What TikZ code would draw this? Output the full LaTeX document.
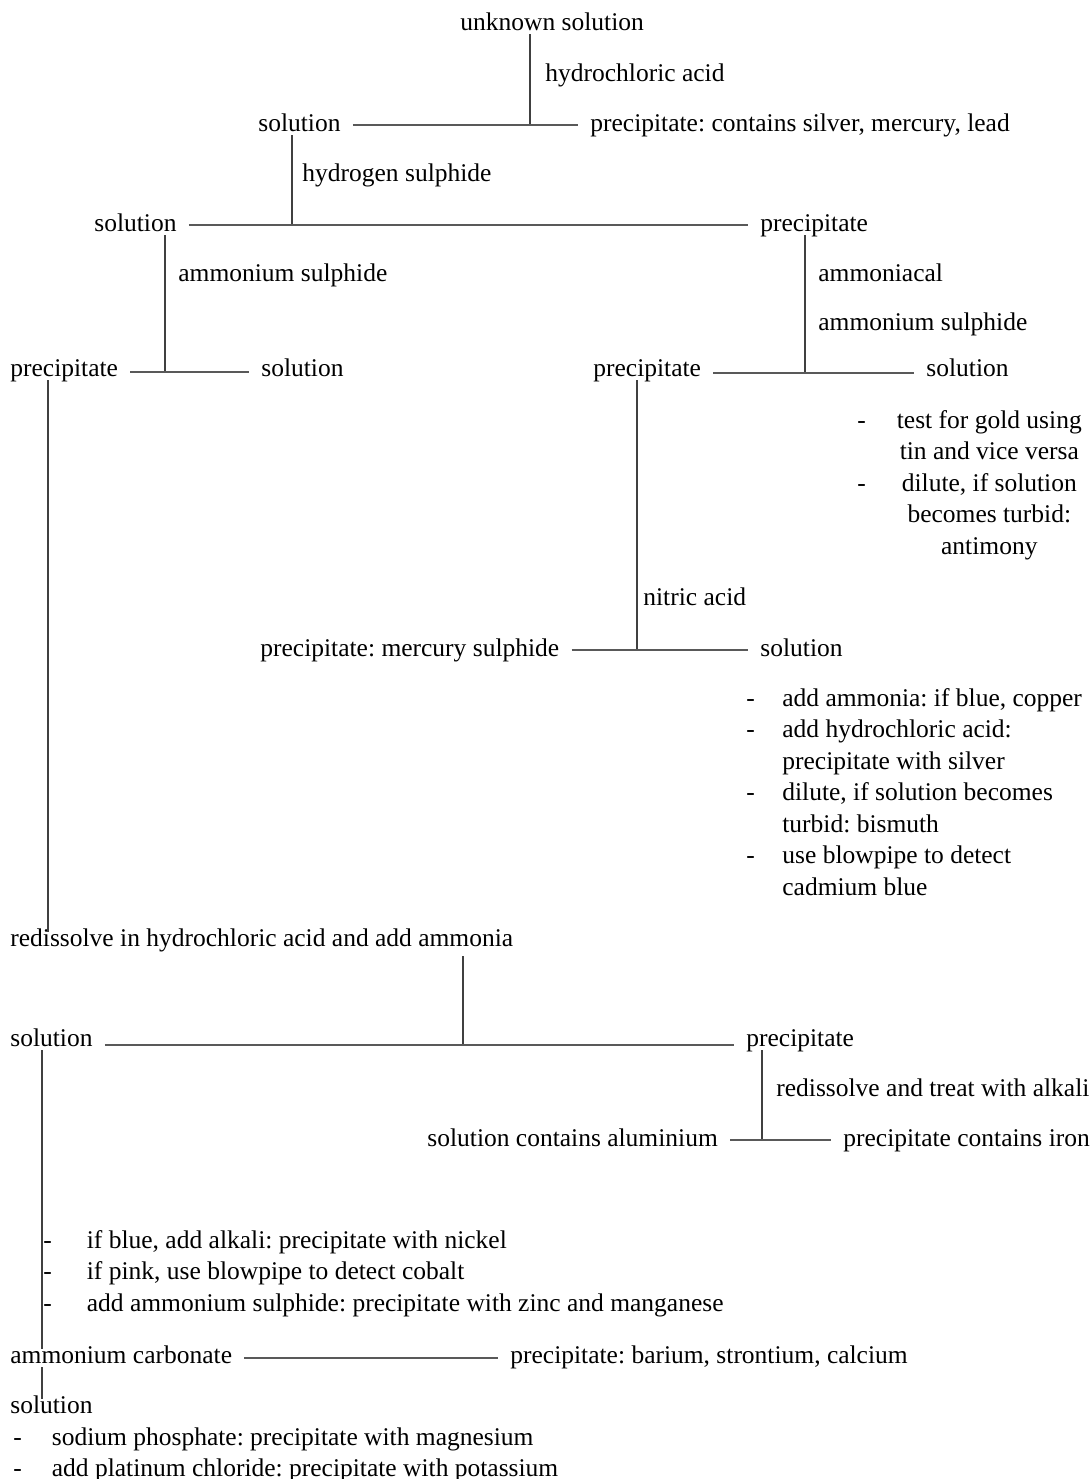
\documentclass[tikz,border=0pt]{standalone}
\usepackage{fontspec}
\setmainfont{Liberation Serif}
\usetikzlibrary{positioning}
\frenchspacing

\tikzset{
	txt/.style={anchor=west, inner sep=0pt, text height=.7em, text depth=.2em, yshift=-1.5pt},
	notes/.style={anchor=base west, inner sep=0pt, yshift=-1pt},
	vline/.style={draw=black!75, line width=0.6pt},
	hline/.style={draw=black!65, line width=1pt, shorten <=6pt, shorten >=6pt}
}

\begin{document}
\begin{tikzpicture}[x=0.5pt, y=-0.5pt, font=\fontsize{12.75}{15.75}\selectfont]
	\useasboundingbox (0,0) rectangle (1092,1479);

	% hydrochloric acid group
	\node[txt] (unk) at (460,22) {unknown solution};
	\node[txt] (hcl) at (545,73) {hydrochloric acid};
	\node[txt] (sol1) at (258,123) {solution};
	\node[txt] (agpb) at (590,123) {precipitate: contains silver, mercury, lead};
	\coordinate (j1) at (530,125);
	\draw[vline] (j1 |- unk.south) -- (j1);
	\draw[hline] (sol1.east |- j1) -- (agpb.west |- j1);

	% hydrogen sulphide
	\node[txt] (hs) at (302,173) {hydrogen sulphide};
	\node[txt] (sol2) at (94,223) {solution};
	\node[txt] (prec2) at (760,223) {precipitate};
	\coordinate (j2) at (292,225);
	\draw[vline] (j2 |- sol1.south) -- (j2);
	\draw[hline] (sol2.east |- j2) -- (prec2.west |- j2);

	% ammonium sulphide, left
	\node[txt] (as1) at (178,273) {ammonium sulphide};
	\node[txt] (prec3) at (10,368) {precipitate};
	\node[txt] (sol3) at (261,368) {solution};
	\coordinate (j3) at (165,372);
	\draw[vline] (j3 |- sol2.south) -- (j3);
	\draw[hline] (prec3.east |- j3) -- (sol3.west |- j3);

	% ammoniacal ammonium sulphide, right
	\node[txt] (amm) at (818,273) {ammoniacal};
	\node[txt] (as2) at (818,322) {ammonium sulphide};
	\node[txt] (prec4) at (593,368) {precipitate};
	\node[txt] (sol4) at (926,368) {solution};
	\coordinate (j4) at (805,373);
	\draw[vline] (j4 |- prec2.south) -- (j4);
	\draw[hline] (prec4.east |- j4) -- (sol4.west |- j4);
	\node[notes] (goldnotes) at (857,426) {\begin{tabular}[t]{@{}l@{\hspace{15.5pt}}c@{}}
		- & test for gold using\\
		  & tin and vice versa\\
		- & dilute, if solution\\
		  & becomes turbid:\\
		  & antimony
	\end{tabular}};

	% nitric acid
	\node[txt] (nitric) at (643,597) {nitric acid};
	\node[txt] (hgs) at (260,648) {precipitate: mercury sulphide};
	\node[txt] (sol5) at (760,648) {solution};
	\coordinate (j5) at (637,650);
	\draw[vline] (j5 |- prec4.south) -- (j5);
	\draw[hline] (hgs.east |- j5) -- (sol5.west |- j5);
	\node[notes] (cunotes) at (746,704) {\begin{tabular}[t]{@{}l@{\hspace{13.75pt}}l@{}}
		- & add ammonia: if blue, copper\\
		- & add hydrochloric acid:\\
		  & precipitate with silver\\
		- & dilute, if solution becomes\\
		  & turbid: bismuth\\
		- & use blowpipe to detect\\
		  & cadmium blue
	\end{tabular}};

	% ammonia group
	\node[txt] (redis) at (10,938) {redissolve in hydrochloric acid and add ammonia};
	\coordinate (k1) at (48,0);
	\draw[vline] (k1 |- prec3.south) -- (k1 |- redis.north);
	\node[txt] (sol6) at (10,1038) {solution};
	\node[txt] (prec6) at (746,1038) {precipitate};
	\coordinate (j6) at (463,1045);
	\draw[vline, shorten <=3pt] (j6 |- redis.south) -- (j6);
	\draw[hline] (sol6.east |- j6) -- (prec6.west |- j6);

	\node[txt] (alkali) at (776,1088) {redissolve and treat with alkali};
	\node[txt] (al) at (427,1138) {solution contains aluminium};
	\node[txt] (fe) at (843,1138) {precipitate contains iron};
	\coordinate (j7) at (762,1140);
	\draw[vline] (j7 |- prec6.south) -- (j7);
	\draw[hline] (al.east |- j7) -- (fe.west |- j7);

	% solution down to ammonium carbonate
	\node[txt] (carb) at (10,1355) {ammonium carbonate};
	\node[txt] (bacasr) at (510,1355) {precipitate: barium, strontium, calcium};
	\node[txt] (sol7) at (10,1405) {solution};
	\coordinate (k2) at (42,0);
	\draw[vline] (k2 |- sol6.south) -- (k2 |- carb.north);
	\draw[vline] (k2 |- carb.south) -- (k2 |- sol7.north);
	\draw[hline] (carb.east) -- (bacasr.west);
	\node[notes] (ninotes) at (43,1246) {\begin{tabular}[t]{@{}l@{\hspace{17.5pt}}l@{}}
		- & if blue, add alkali: precipitate with nickel\\
		- & if pink, use blowpipe to detect cobalt\\
		- & add ammonium sulphide: precipitate with zinc and manganese
	\end{tabular}};
	\node[notes] (mgnotes) at (13,1443) {\begin{tabular}[t]{@{}l@{\hspace{15pt}}l@{}}
		- & sodium phosphate: precipitate with magnesium\\
		- & add platinum chloride: precipitate with potassium
	\end{tabular}};
\end{tikzpicture}
\end{document}
